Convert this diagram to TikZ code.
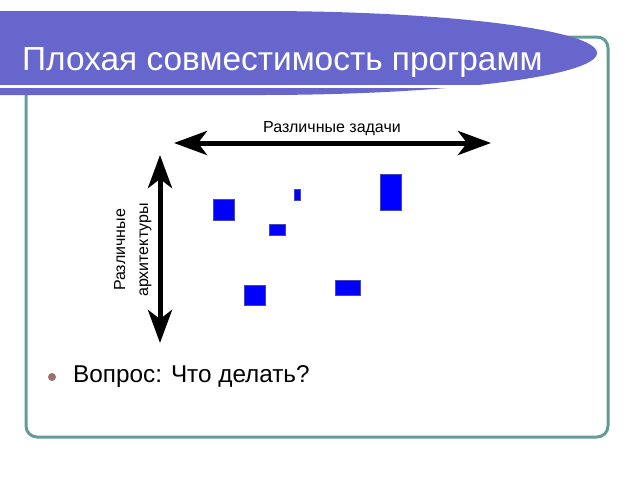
\documentclass[tikz,border=0pt]{standalone}
\usepackage{fontspec}
\setmainfont{Liberation Sans}
\usetikzlibrary{arrows.meta}
\definecolor{banner}{RGB}{102,102,204}
\definecolor{framec}{RGB}{100,155,150}
\definecolor{boxblue}{RGB}{0,0,255}
\definecolor{boxedge}{RGB}{70,70,190}
\definecolor{bulletc}{RGB}{160,110,110}
\tikzset{
  bigarrow/.style={line width=5pt, {Stealth[length=33pt,width=24pt,inset=9pt]}-{Stealth[length=33pt,width=24pt,inset=9pt]}},
  bluebox/.style={fill=boxblue, draw=boxedge, line width=0.8pt},
  lbl/.style={inner sep=0pt, font=\fontsize{16}{18}\selectfont},
}
\begin{document}
\begin{tikzpicture}[x=1pt,y=-1pt]
\useasboundingbox (0,0) rectangle (640,480);
% frame
\draw[framec, line width=3pt, rounded corners=11pt] (26,37) rectangle (608,437);
% banner
\fill[banner] (0,11) -- (260,11) arc[start angle=90, end angle=-90, x radius=337, y radius=-42] -- (0,95) -- cycle;
\fill[white] (0,85) rectangle (488,87.5);
\node[anchor=base west, inner sep=0pt, text=white, font=\fontsize{33.4}{40}\selectfont] (title) at (22,70) {Плохая совместимость программ};
% arrows
\coordinate (hl) at (174,143);
\coordinate (hr) at (491,143);
\coordinate (vt) at (160,155);
\coordinate (vb) at (160,343);
\draw[bigarrow] (hl) -- (hr);
\draw[bigarrow] (vt) -- (vb);
\node[lbl, anchor=base] (tasks) at (332,132) {Различные задачи};
\node[lbl, anchor=base, rotate=90] (arch1) at (125,250) {Различные};
\node[lbl, anchor=base, rotate=90] (arch2) at (148,250) {архитектуры};
% boxes
\draw[bluebox] (213.5,199.5) rectangle (234.5,220);
\draw[bluebox] (294.5,189) rectangle (300,200);
\draw[bluebox] (269,224) rectangle (285,235);
\draw[bluebox] (380,174) rectangle (401,210);
\draw[bluebox] (244,285) rectangle (265,305.5);
\draw[bluebox] (335,280) rectangle (360,295.5);
% bullet
\fill[bulletc] (52,377) circle[radius=4];
\node[anchor=base west, inner sep=0pt, font=\fontsize{24.3}{28}\selectfont] (q) at (73,382) {Вопрос: Что делать?};
\end{tikzpicture}
\end{document}
